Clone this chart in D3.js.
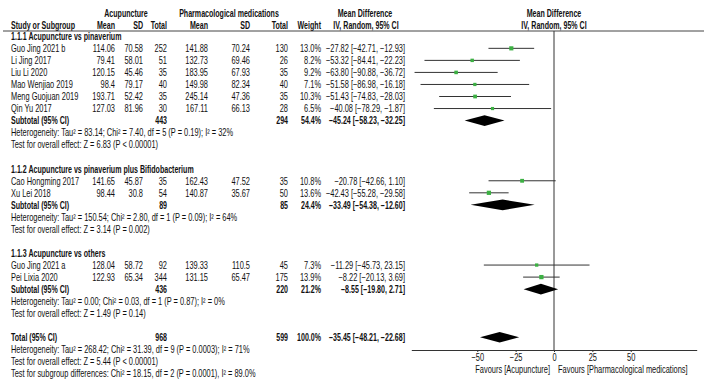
<!DOCTYPE html>
<html>
<head>
<meta charset="utf-8">
<script src="https://cdn.jsdelivr.net/npm/d3@7"></script>
<style>
  body { margin: 0; background: #fff; }
  text { font-family: "Liberation Sans", Arial, sans-serif; font-size: 10.2px; fill: #111; }
  .b { font-weight: bold; }
</style>
</head>
<body>
<div id="chart"></div>
<script>
// study level data
const studyNames = ["Guo Jing 2021 b", "Li Jing 2017", "Liu Li 2020", "Mao Wenjiao 2019", "Meng Guojuan 2019",
    "Qin Yu 2017", "Cao Hongming 2017", "Xu Lei 2018", "Guo Jing 2021 a", "Pei Lixia 2020"];
const studyGroup = [0, 0, 0, 0, 0, 0, 1, 1, 2, 2];
const acuMean = [114.06, 79.41, 120.15, 98.4, 193.71, 127.03, 141.65, 98.44, 128.04, 122.93];
const acuSD = [70.58, 58.01, 45.46, 79.17, 52.42, 81.96, 45.87, 30.8, 58.72, 65.34];
const acuN = [252, 51, 35, 40, 35, 30, 35, 54, 92, 344];
const phMean = [141.88, 132.73, 183.95, 149.98, 245.14, 167.11, 162.43, 140.87, 139.33, 131.15];
const phSD = [70.24, 69.46, 67.93, 82.34, 47.36, 66.13, 47.52, 35.67, 110.5, 65.47];
const phN = [130, 26, 35, 40, 35, 28, 35, 50, 45, 175];
const weights = [13.0, 8.2, 9.2, 7.1, 10.3, 6.5, 10.8, 13.6, 7.3, 13.9];
const md = [-27.82, -53.32, -63.80, -51.58, -51.43, -40.08, -20.78, -42.43, -11.29, -8.22];
const mdLo = [-42.71, -84.41, -90.88, -86.98, -74.83, -78.29, -42.66, -55.28, -45.73, -20.13];
const mdHi = [-12.93, -22.23, -36.72, -16.18, -28.03, -1.87, 1.10, -29.58, 23.15, 3.69];

// subgroup data
const groupTitles = ["1.1.1 Acupuncture vs pinaverium", "1.1.2 Acupuncture vs pinaverium plus Bifidobacterium", "1.1.3 Acupuncture vs others"];
const subAcuN = [443, 89, 436];
const subPhN = [294, 85, 220];
const subWeight = [54.4, 24.4, 21.2];
const subMd = [-45.24, -33.49, -8.55];
const subLo = [-58.23, -54.38, -19.80];
const subHi = [-32.25, -12.60, 2.71];
const subHet = ["Heterogeneity: Tau² = 83.14; Chi² = 7.40, df = 5 (P = 0.19); I² = 32%",
    "Heterogeneity: Tau² = 150.54; Chi² = 2.80, df = 1 (P = 0.09); I² = 64%",
    "Heterogeneity: Tau² = 0.00; Chi² = 0.03, df = 1 (P = 0.87); I² = 0%"];
const subTest = ["Test for overall effect: Z = 6.83 (P < 0.00001)",
    "Test for overall effect: Z = 3.14 (P = 0.002)",
    "Test for overall effect: Z = 1.49 (P = 0.14)"];

// overall
const totalAcuN = 968, totalPhN = 599, totalWeight = 100.0;
const totalMd = -35.45, totalLo = -48.21, totalHi = -22.68;
const totalNotes = ["Heterogeneity: Tau² = 268.42; Chi² = 31.39, df = 9 (P = 0.0003); I² = 71%",
    "Test for overall effect: Z = 5.44 (P < 0.00001)",
    "Test for subgroup differences: Chi² = 18.15, df = 2 (P = 0.0001), I² = 89.0%"];

const xTicks = [-50, -25, 0, 25, 50];
const favours = ["Favours [Acupuncture]", "Favours [Pharmacological medications]"];

const width = 708, height = 386;
const sx = 0.73; // condense text horizontally, like Arial Narrow
const svg = d3.select("#chart").append("svg")
    .attr("width", width).attr("height", height);

// build row list
const rows = [];
groupTitles.forEach((t, g) => {
    rows.push({ type: "title", g });
    studyNames.forEach((n, i) => { if (studyGroup[i] === g) rows.push({ type: "study", i }); });
    rows.push({ type: "sub", g });
    rows.push({ type: "note", text: subHet[g] });
    rows.push({ type: "note", text: subTest[g] });
    rows.push({ type: "blank" });
});
rows.push({ type: "total" });
totalNotes.forEach(t => rows.push({ type: "note", text: t }));

const y = d3.scaleLinear().domain([0, rows.length - 1]).range([36.3, 36.3 + (rows.length - 1) * 12.04]);
const x = d3.scaleLinear().domain([-93, 93]).range([411.3, 696.7]);

const f2 = d3.format(".2f");
const ciText = (m, l, h) => `${f2(m)} [${f2(l)}, ${f2(h)}]`;
const pct = w => w.toFixed(1) + "%";

function txt(px, py, s, anchor, bold) {
    svg.append("text")
        .attr("transform", `translate(${px},${py}) scale(${bold ? sx * 0.95 : sx},1)`)
        .attr("text-anchor", anchor || "start")
        .attr("class", bold ? "b" : null)
        .text(s);
}

// column positions (right edges unless noted)
const cStudy = 11, cAM = 115, cASD = 143, cAN = 167, cPM = 208, cPSD = 250, cPN = 288, cW = 321, cMD = 405;

// header
txt(126, 16.5, "Acupuncture", "middle", true);
txt(229, 16.5, "Pharmacological medications", "middle", true);
txt(365, 16.5, "Mean Difference", "middle", true);
txt(x(0), 16.5, "Mean Difference", "middle", true);
txt(cStudy, 28.5, "Study or Subgroup", "start", true);
txt(cAM, 28.5, "Mean", "end", true);
txt(cASD, 28.5, "SD", "end", true);
txt(cAN, 28.5, "Total", "end", true);
txt(cPM, 28.5, "Mean", "end", true);
txt(cPSD, 28.5, "SD", "end", true);
txt(cPN, 28.5, "Total", "end", true);
txt(cW, 28.5, "Weight", "end", true);
txt(366, 28.5, "IV, Random, 95% CI", "middle", true);
txt(x(0), 28.5, "IV, Random, 95% CI", "middle", true);

svg.append("line").attr("x1", 3).attr("x2", 704).attr("y1", 31).attr("y2", 31)
    .attr("stroke", "#444").attr("stroke-width", 1);

const axisY = 350;
// zero line
svg.append("line").attr("x1", x(0)).attr("x2", x(0)).attr("y1", 31).attr("y2", axisY)
    .attr("stroke", "#333").attr("stroke-width", 1);

const base = 3.8;
function diamond(r, m, l, h) {
    const cy = y(r);
    svg.append("path")
        .attr("d", `M${x(l)},${cy}L${x(m)},${cy - 5.3}L${x(h)},${cy}L${x(m)},${cy + 5.3}Z`)
        .attr("fill", "#000");
}

rows.forEach((row, r) => {
    const by = y(r) + base;
    if (row.type === "title") {
        txt(cStudy, by, groupTitles[row.g], "start", true);
    } else if (row.type === "study") {
        const i = row.i;
        txt(cStudy, by, studyNames[i]);
        txt(cAM, by, String(acuMean[i]), "end");
        txt(cASD, by, String(acuSD[i]), "end");
        txt(cAN, by, String(acuN[i]), "end");
        txt(cPM, by, String(phMean[i]), "end");
        txt(cPSD, by, String(phSD[i]), "end");
        txt(cPN, by, String(phN[i]), "end");
        txt(cW, by, pct(weights[i]), "end");
        txt(cMD, by, ciText(md[i], mdLo[i], mdHi[i]), "end");
        svg.append("line").attr("x1", x(mdLo[i])).attr("x2", x(mdHi[i]))
            .attr("y1", y(r)).attr("y2", y(r)).attr("stroke", "#333").attr("stroke-width", 1);
        const s = 2.2 + weights[i] * 0.15;
        svg.append("rect").attr("x", x(md[i]) - s / 2).attr("y", y(r) - s / 2)
            .attr("width", s).attr("height", s).attr("fill", "#3cb043");
    } else if (row.type === "sub") {
        const g = row.g;
        txt(cStudy, by, "Subtotal (95% CI)", "start", true);
        txt(cAN, by, String(subAcuN[g]), "end", true);
        txt(cPN, by, String(subPhN[g]), "end", true);
        txt(cW, by, pct(subWeight[g]), "end", true);
        txt(cMD, by, ciText(subMd[g], subLo[g], subHi[g]), "end", true);
        diamond(r, subMd[g], subLo[g], subHi[g]);
    } else if (row.type === "note") {
        txt(cStudy, by, row.text);
    } else if (row.type === "total") {
        txt(cStudy, by, "Total (95% CI)", "start", true);
        txt(cAN, by, String(totalAcuN), "end", true);
        txt(cPN, by, String(totalPhN), "end", true);
        txt(cW, by, pct(totalWeight), "end", true);
        txt(cMD, by, ciText(totalMd, totalLo, totalHi), "end", true);
        diamond(r, totalMd, totalLo, totalHi);
    }
});

// axis
const ax = svg.append("g").attr("transform", `translate(0,${axisY})`)
    .call(d3.axisBottom(x).tickValues(xTicks).tickSize(2).tickSizeOuter(0).tickFormat(d3.format("d")));
ax.select(".domain").attr("stroke", "#333");
ax.selectAll(".tick line").attr("stroke", "#333");
ax.selectAll(".tick text")
    .attr("y", null).attr("dy", null)
    .attr("transform", `translate(0,11) scale(${sx},1)`)
    .style("font-size", "10.2px")
    .style("font-family", "'Liberation Sans', Arial, sans-serif").attr("fill", "#111");

txt(x(0) - 4, 373, favours[0], "end");
txt(x(0) + 4, 373, favours[1], "start");
</script>
</body>
</html>
